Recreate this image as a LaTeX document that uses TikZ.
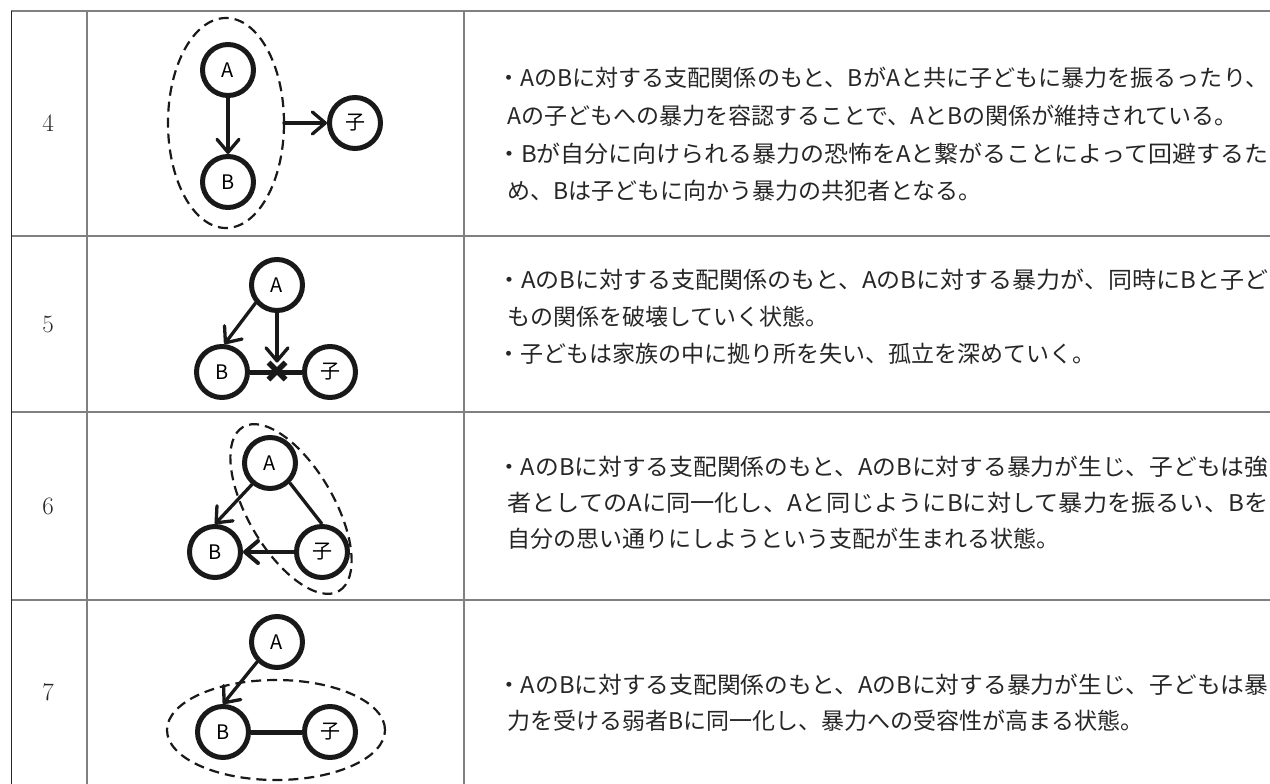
\documentclass[tikz,border=0pt]{standalone}
\usepackage{fontspec}
\usepackage{graphicx}
\newfontfamily\jpfont{Noto Sans CJK JP}
\usetikzlibrary{arrows.meta,shapes.misc}
\begin{document}
\begin{tikzpicture}[x=1pt,y=-1pt,
  person/.style={circle, draw=black!90, line width=5pt, minimum size=51pt, inner sep=0pt, font=\jpfont\fontsize{20}{20}\selectfont},
  gridline/.style={draw=black!50, line width=1.5pt},
  arr/.style={draw=black!90, line width=3.3pt, line cap=round, -{Straight Barb[length=13pt,width=22pt,round]}},
  bond/.style={draw=black!90, line width=5pt},
  grp/.style={draw=black!90, line width=2.2pt, dash pattern=on 10pt off 6pt},
  txt/.style={anchor=west, inner sep=0pt, text=black!85, font=\jpfont\fontsize{23}{23}\selectfont},
  num/.style={inner sep=0pt, text=black!85, font=\fontsize{25}{25}\selectfont}
]
\useasboundingbox (0,0) rectangle (1270,784);
% table
\draw[gridline] (11,11) -- (1270,11);
\draw[gridline] (11,236) -- (1270,236);
\draw[gridline] (11,412) -- (1270,412);
\draw[gridline] (11,600) -- (1270,600);
\draw[line width=1.5pt, draw=black!85] (11.5,11) -- (11.5,784);
\draw[gridline] (87,11) -- (87,784);
\draw[gridline] (464,11) -- (464,784);
% numbers
\node[num] (n4) at (48,123) {4};
\node[num] (n5) at (48,324) {5};
\node[num] (n6) at (48,506) {6};
\node[num] (n7) at (48,692) {7};

% row 4 diagram
\node[person] (a4) at (228,70) {A};
\node[person] (b4) at (228,182) {B};
\node[person] (c4) at (355,123) {子};
\draw[arr] (a4) -- (b4);
\draw[grp] (226,123) ellipse [x radius=58pt, y radius=105pt];
\coordinate (e4) at (284,123);
\draw[arr] (e4) -- (c4);

% row 5 diagram
\node[person] (a5) at (277,285) {A};
\node[person] (b5) at (222,372) {B};
\node[person] (c5) at (330,372) {子};
\draw[bond] (b5) -- (c5);
\node[draw=black!90, cross out, line width=5.5pt, minimum size=17pt, inner sep=0pt, outer sep=0pt] (x5) at (277,371) {};
\draw[arr] (a5.-140) -- (b5.85);
\draw[arr] (a5) -- (x5.north);

% row 6 diagram
\node[person] (a6) at (270,463) {A};
\node[person] (b6) at (215,552) {B};
\node[person] (c6) at (322,552) {子};
\draw[arr] (a6.-130) -- (b6.north);
\draw[draw=black!90, line width=3.3pt] (a6.-45) -- (c6.north);
\draw[arr, line width=4pt] (c6) -- (b6);
\draw[grp, rotate around={-59.7:(291,509)}] (291,509) ellipse [x radius=95pt, y radius=43pt];

% row 7 diagram
\node[person] (a7) at (277,642) {A};
\node[person] (b7) at (223,732) {B};
\node[person] (c7) at (330,732) {子};
\draw[arr] (a7.-135) -- (b7.north);
\draw[bond] (b7) -- (c7);
\draw[grp] (276,730) ellipse [x radius=109pt, y radius=50pt];

% row 4 text
\node[txt] (t41) at (497,78) {\resizebox{771pt}{\height}{・AのBに対する支配関係のもと、BがAと共に子どもに暴力を振るったり、}};
\node[txt] (t42) at (507,116) {Aの子どもへの暴力を容認することで、AとBの関係が維持されている。};
\node[txt] (t43) at (497,154) {\resizebox{771pt}{\height}{・Bが自分に向けられる暴力の恐怖をAと繋がることによって回避するた}};
\node[txt] (t44) at (507,191) {め、Bは子どもに向かう暴力の共犯者となる。};
% row 5 text
\node[txt] (t51) at (497,280) {\resizebox{771pt}{\height}{・AのBに対する支配関係のもと、AのBに対する暴力が、同時にBと子ど}};
\node[txt] (t52) at (507,317) {もの関係を破壊していく状態。};
\node[txt] (t53) at (497,354) {・子どもは家族の中に拠り所を失い、孤立を深めていく。};
% row 6 text
\node[txt] (t61) at (497,467) {\resizebox{771pt}{\height}{・AのBに対する支配関係のもと、AのBに対する暴力が生じ、子どもは強}};
\node[txt] (t62) at (507,503) {\resizebox{761pt}{\height}{者としてのAに同一化し、Aと同じようにBに対して暴力を振るい、Bを}};
\node[txt] (t63) at (507,539) {自分の思い通りにしようという支配が生まれる状態。};
% row 7 text
\node[txt] (t71) at (497,685) {\resizebox{771pt}{\height}{・AのBに対する支配関係のもと、AのBに対する暴力が生じ、子どもは暴}};
\node[txt] (t72) at (507,721) {力を受ける弱者Bに同一化し、暴力への受容性が高まる状態。};
\end{tikzpicture}
\end{document}
